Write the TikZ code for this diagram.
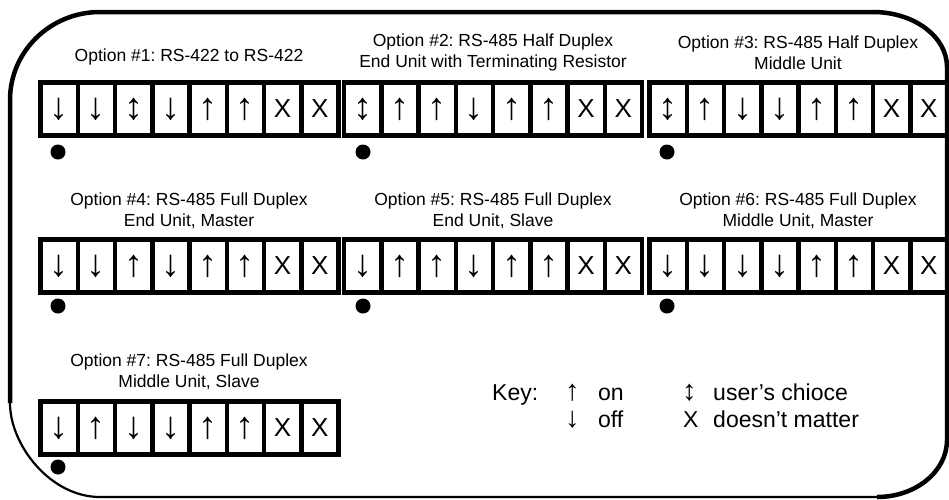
\documentclass[tikz,border=0pt]{standalone}
\usepackage{fontspec}
\setmainfont{Liberation Sans}
\usetikzlibrary{positioning}
\frenchspacing

\newcommand{\titlefont}{\fontsize{17.5}{21}\selectfont}
\newcommand{\cellfont}{\fontsize{26}{30}\selectfont}
\newcommand{\keyfont}{\fontsize{23}{27}\selectfont}
% switch settings, arrows set larger than the text
\newcommand{\swup}{{\fontsize{38}{38}\selectfont ↑}}
\newcommand{\swdn}{{\fontsize{38}{38}\selectfont ↓}}
\newcommand{\swud}{{\fontsize{38}{38}\selectfont ↕}}
\newcommand{\keyarrow}[1]{{\fontsize{29}{29}\selectfont #1}}

\tikzset{
	cell/.style={draw, line width=4.5pt, minimum width=37.25pt, minimum height=53pt, inner sep=0pt, font=\cellfont},
	title/.style={align=center, font=\titlefont, inner sep=0pt},
	keytext/.style={font=\keyfont, inner sep=0pt, anchor=base west},
	dot/.style={circle, fill, minimum size=15pt, inner sep=0pt},
	frame/.style={line width=4.5pt},
	thinframe/.style={line width=2.2pt}
}

% one bank of eight switches: name, left x, top y, settings
\newcommand{\bank}[4]{%
	\foreach \s [count=\i] in {#4} {
		\node[cell] (#1-\i) at ({#2+(\i-0.5)*37.25},{#3+26.5}) {\s};
	}
}

\begin{document}
\begin{tikzpicture}[x=1pt, y=-1pt]
		\useasboundingbox (0,0) rectangle (949,499);
		% outer frame
		\draw[frame] (10,403) -- (10,100) .. controls (10,51.4) and (50.3,12) .. (100,12)
			-- (873,12) .. controls (913.9,12) and (947,36.6) .. (947,67)
			-- (947,440) .. controls (947,471.5) and (915.7,497) .. (877,497);
		\draw[thinframe] (877,497) -- (100,497) .. controls (50.3,497) and (10,445) .. (10,403);
		% option 1
		\node[title] (t1) at (189,57) {Option \#1: RS-422 to RS-422};
		\bank{o1}{40.5}{82.5}{\swdn,\swdn,\swud,\swdn,\swup,\swup,X,X}
		\node[dot] (dot1) at (58,152) {};
		% option 2
		\node[title] (t2) at (493,52.5) {Option \#2: RS-485 Half Duplex\\End Unit with Terminating Resistor};
		\bank{o2}{344}{82.5}{\swud,\swup,\swup,\swdn,\swup,\swup,X,X}
		\node[dot] (dot2) at (363,152) {};
		% option 3
		\node[title] (t3) at (798,52.5) {Option \#3: RS-485 Half Duplex\\Middle Unit};
		\bank{o3}{649.5}{82.5}{\swud,\swup,\swdn,\swdn,\swup,\swup,X,X}
		\node[dot] (dot3) at (667,152) {};
		% option 4
		\node[title] (t4) at (189,210.5) {Option \#4: RS-485 Full Duplex\\End Unit, Master};
		\bank{o4}{40.5}{239.5}{\swdn,\swdn,\swup,\swdn,\swup,\swup,X,X}
		\node[dot] (dot4) at (58,306) {};
		% option 5
		\node[title] (t5) at (493,210.5) {Option \#5: RS-485 Full Duplex\\End Unit, Slave};
		\bank{o5}{344}{239.5}{\swdn,\swup,\swup,\swdn,\swup,\swup,X,X}
		\node[dot] (dot5) at (363,306) {};
		% option 6
		\node[title] (t6) at (798,210.5) {Option \#6: RS-485 Full Duplex\\Middle Unit, Master};
		\bank{o6}{649.5}{239.5}{\swdn,\swdn,\swdn,\swdn,\swup,\swup,X,X}
		\node[dot] (dot6) at (667,306) {};
		% option 7
		\node[title] (t7) at (189,372) {Option \#7: RS-485 Full Duplex\\Middle Unit, Slave};
		\bank{o7}{40.5}{401.5}{\swdn,\swup,\swdn,\swdn,\swup,\swup,X,X}
		\node[dot] (dot7) at (58,467) {};
		% key
		\node[keytext] (key) at (492,400) {Key:};
		\node[keytext] (kon) at (565,400) {\keyarrow{↑}};
		\node[keytext] (kont) at (598,400) {on};
		\node[keytext] (koff) at (565,427) {\keyarrow{↓}};
		\node[keytext] (kofft) at (598,427) {off};
		\node[keytext] (kuser) at (682,400) {\keyarrow{↕}};
		\node[keytext] (kusert) at (713,400) {user’s chioce};
		\node[keytext] (kx) at (683,427) {X};
		\node[keytext] (kxt) at (713,427) {doesn’t matter};
\end{tikzpicture}
\end{document}
